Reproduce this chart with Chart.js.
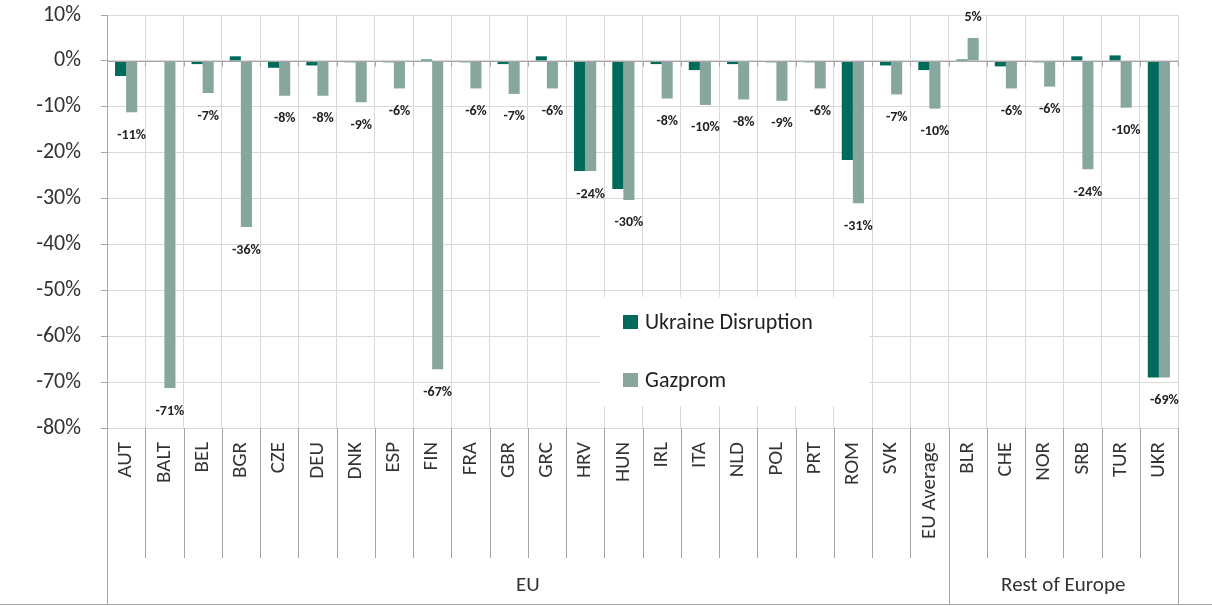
<!DOCTYPE html>
<html>
<head>
<meta charset="utf-8">
<script src="https://cdn.jsdelivr.net/npm/chart.js@4.4.1/dist/chart.umd.min.js"></script>
<style>
  html, body { margin: 0; padding: 0; background: #fff; }
  #wrap { width: 1212px; height: 606px; position: relative; }
</style>
</head>
<body>
<div id="wrap"><canvas id="gasChart"></canvas></div>
<script>
// categories and groups
const countries = ['AUT', 'BALT', 'BEL', 'BGR', 'CZE', 'DEU', 'DNK', 'ESP', 'FIN', 'FRA', 'GBR', 'GRC', 'HRV', 'HUN',
  'IRL', 'ITA', 'NLD', 'POL', 'PRT', 'ROM', 'SVK', 'EU Average', 'BLR', 'CHE', 'NOR', 'SRB', 'TUR', 'UKR'];
const groupLabels = ['EU', 'Rest of Europe'];
const groupSizes = [22, 6];

// series values (% change)
const ukraineDisruption = [-3.3, 0, -0.7, 1, -1.5, -1, -0.3, -0.3, 0.3, -0.3, -0.7, 1, -24, -27.9,
  -0.7, -2, -0.7, -0.3, -0.3, -21.6, -1, -2, 0.3, -1.2, -0.3, 1, 1.2, -69];
const gazprom = [-11.2, -71.3, -7, -36.2, -7.6, -7.6, -9, -6, -67.2, -6, -7.2, -6, -24, -30.3,
  -8.2, -9.6, -8.4, -8.7, -6, -31, -7.3, -10.4, 5, -6, -5.6, -23.6, -10.2, -69];

// y axis ticks
const yMin = -80, yMax = 10, yStep = 10;

const FONT = 'Carlito, Lato, "Open Sans", sans-serif';
const DARK = '#006a5b';
const LIGHT = '#87a79e';
const AXIS = '#a6a6a6';
const GRID = '#d9d9d9';
const TEXT = '#333333';

// zero line, separators under the axis, group labels, legend, value labels
const excelBits = {
  id: 'excelBits',
  beforeDatasetsDraw(chart) {
    const { ctx } = chart;
    // legend box inside the plot
    const bx = 600, by = 297, bw = 269, bh = 109;
    ctx.save();
    ctx.fillStyle = '#fff';
    ctx.fillRect(bx, by, bw, bh);
    const rows = [322, 380];
    ctx.font = '22px ' + FONT;
    ctx.textBaseline = 'middle';
    ctx.textAlign = 'left';
    chart.data.datasets.forEach((ds, i) => {
      ctx.fillStyle = ds.backgroundColor;
      ctx.fillRect(623, rows[i] - 7, 15, 14);
      ctx.fillStyle = '#222';
      ctx.fillText(ds.label, 645, rows[i] + 1);
    });
    ctx.restore();
  },
  afterDatasetsDraw(chart) {
    const { ctx, chartArea, scales } = chart;
    const x = scales.x, y = scales.y;
    const n = chart.data.labels.length;
    const step = x.getPixelForValue(1) - x.getPixelForValue(0);
    const start = x.getPixelForValue(0) - step / 2;
    const y0 = Math.round(y.getPixelForValue(0)) + 0.5;

    ctx.save();
    ctx.strokeStyle = AXIS;
    ctx.lineWidth = 1;
    // zero axis with small ticks
    ctx.beginPath();
    ctx.moveTo(chartArea.left, y0);
    ctx.lineTo(chartArea.right, y0);
    for (let k = 0; k <= n; k++) {
      const bxp = Math.round(start + k * step) + 0.5;
      ctx.moveTo(bxp, y0);
      ctx.lineTo(bxp, y0 + 5);
    }
    ctx.stroke();

    // separators below the plot
    const groupEdges = [0];
    groupSizes.reduce((acc, s) => { groupEdges.push(acc + s); return acc + s; }, 0);
    ctx.beginPath();
    for (let k = 0; k <= n; k++) {
      const bxp = Math.round(start + k * step) + 0.5;
      ctx.moveTo(bxp, chartArea.bottom);
      ctx.lineTo(bxp, groupEdges.includes(k) ? 604 : 558);
    }
    ctx.moveTo(0, 604.5);
    ctx.lineTo(1212, 604.5);
    ctx.stroke();

    // group labels
    ctx.fillStyle = TEXT;
    ctx.font = '21px ' + FONT;
    ctx.textAlign = 'center';
    ctx.textBaseline = 'middle';
    groupLabels.forEach((g, i) => {
      const a = start + groupEdges[i] * step;
      const b = start + groupEdges[i + 1] * step;
      ctx.fillText(g, (a + b) / 2, 586);
    });

    // value labels for the Gazprom series
    const meta = chart.getDatasetMeta(1);
    ctx.font = 'bold 14px ' + FONT;
    ctx.fillStyle = '#222';
    meta.data.forEach((bar, i) => {
      const v = chart.data.datasets[1].data[i];
      const ty = v < 0 ? bar.y + 23 : bar.y - 20;
      ctx.fillText(Math.round(v) + '%', bar.x, ty);
    });
    ctx.restore();
  }
};

new Chart(document.getElementById('gasChart'), {
  type: 'bar',
  data: {
    labels: countries,
    datasets: [
      { label: 'Ukraine Disruption', data: ukraineDisruption, backgroundColor: DARK, borderWidth: 0 },
      { label: 'Gazprom', data: gazprom, backgroundColor: LIGHT, borderWidth: 0 }
    ]
  },
  options: {
    responsive: true,
    maintainAspectRatio: false,
    animation: false,
    datasets: { bar: { categoryPercentage: 0.58, barPercentage: 1.0 } },
    layout: { padding: { top: 15, right: 34, left: 0, bottom: 0 } },
    plugins: { legend: { display: false }, tooltip: { enabled: false } },
    scales: {
      x: {
        grid: { offset: true, color: GRID, drawTicks: false },
        border: { display: false },
        ticks: {
          color: TEXT,
          font: { family: FONT, size: 21 },
          minRotation: 90,
          maxRotation: 90,
          autoSkip: false,
          padding: 14
        },
        afterFit(scale) {
          scale.height = 178;
          scale.paddingLeft = 0;
          scale.paddingRight = 0;
        }
      },
      y: {
        min: yMin,
        max: yMax,
        grid: { color: GRID, tickLength: 6, tickColor: AXIS },
        border: { display: true, color: AXIS },
        ticks: {
          stepSize: yStep,
          color: TEXT,
          font: { family: FONT, size: 22 },
          padding: 20,
          callback: v => v + '%'
        },
        afterFit(scale) {
          scale.width = 107;
          scale.paddingTop = 0;
          scale.paddingBottom = 0;
        }
      }
    }
  },
  plugins: [excelBits]
});
</script>
</body>
</html>
